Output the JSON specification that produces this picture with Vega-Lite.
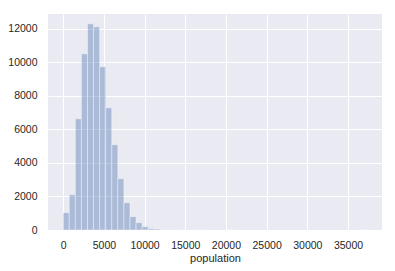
{
  "$schema": "https://vega.github.io/schema/vega-lite/v6.json",
  "width": 334,
  "height": 216,
  "autosize": {"type": "none"},
  "padding": {"left": 48, "top": 14, "right": 13, "bottom": 41},
  "background": "#ffffff",
  "config": {
    "view": {"fill": "#eaeaf2", "stroke": null},
    "font": "Liberation Sans",
    "axis": {
      "domain": false,
      "ticks": false,
      "gridColor": "#ffffff",
      "gridWidth": 1,
      "labelColor": "#262626",
      "titleColor": "#262626",
      "labelFontSize": 10.5,
      "titleFontSize": 11,
      "titleFontWeight": "normal",
      "labelFont": "Liberation Sans",
      "titleFont": "Liberation Sans"
    }
  },
  "data": {
    "values": [
      {"bin_start": 0, "bin_end": 746, "count": 1032},
      {"bin_start": 746, "bin_end": 1493, "count": 2103},
      {"bin_start": 1493, "bin_end": 2239, "count": 6627},
      {"bin_start": 2239, "bin_end": 2985, "count": 10496},
      {"bin_start": 2985, "bin_end": 3731, "count": 12282},
      {"bin_start": 3731, "bin_end": 4478, "count": 12103},
      {"bin_start": 4478, "bin_end": 5224, "count": 9722},
      {"bin_start": 5224, "bin_end": 5970, "count": 7282},
      {"bin_start": 5970, "bin_end": 6716, "count": 5079},
      {"bin_start": 6716, "bin_end": 7463, "count": 3056},
      {"bin_start": 7463, "bin_end": 8209, "count": 1627},
      {"bin_start": 8209, "bin_end": 8955, "count": 794},
      {"bin_start": 8955, "bin_end": 9701, "count": 437},
      {"bin_start": 9701, "bin_end": 10448, "count": 198},
      {"bin_start": 10448, "bin_end": 11194, "count": 80},
      {"bin_start": 11194, "bin_end": 11940, "count": 60},
      {"bin_start": 11940, "bin_end": 12686, "count": 20},
      {"bin_start": 12686, "bin_end": 13432, "count": 8},
      {"bin_start": 14179, "bin_end": 14925, "count": 3},
      {"bin_start": 16418, "bin_end": 17164, "count": 2},
      {"bin_start": 20149, "bin_end": 20895, "count": 1},
      {"bin_start": 36567, "bin_end": 37313, "count": 1}
    ]
  },
  "mark": {
    "type": "rect",
    "fill": "#4c72b0",
    "fillOpacity": 0.4,
    "stroke": "#ffffff",
    "strokeOpacity": 0.5,
    "strokeWidth": 0.8
  },
  "encoding": {
    "x": {
      "field": "bin_start",
      "type": "quantitative",
      "scale": {"domain": [-1866, 39180], "nice": false, "zero": false},
      "axis": {
        "title": "population",
        "values": [0, 5000, 10000, 15000, 20000, 25000, 30000, 35000],
        "format": "d",
        "labelPadding": 10,
        "titlePadding": 2
      }
    },
    "x2": {"field": "bin_end"},
    "y": {
      "field": "count",
      "type": "quantitative",
      "scale": {"domain": [0, 12870], "nice": false},
      "axis": {
        "title": null,
        "values": [0, 2000, 4000, 6000, 8000, 10000, 12000],
        "format": "d",
        "labelPadding": 11
      }
    },
    "y2": {"datum": 0}
  }
}
